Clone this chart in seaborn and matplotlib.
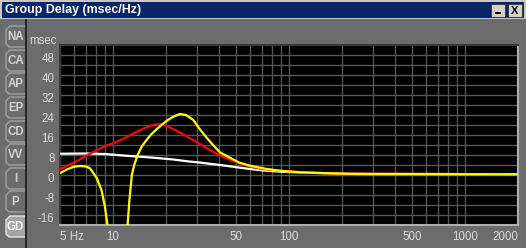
import numpy as np
import pandas as pd
import matplotlib
matplotlib.use("Agg")
import matplotlib.pyplot as plt
import seaborn as sns
from matplotlib.patches import Rectangle, Polygon
from matplotlib.ticker import FixedLocator, NullFormatter
from matplotlib.transforms import ScaledTranslation

# ---------------- data ----------------
white_f = [5, 7, 9, 10.5, 12.4, 15, 18.4, 22, 27, 31, 40.6, 48, 60, 71, 90, 130, 222, 2000]
white_v = [8.5, 8.6, 8.4, 8.0, 7.6, 7.2, 6.7, 6.2, 5.4, 5.0, 4.0, 3.3, 2.4, 1.8, 1.3, 0.9, 0.5, 0.3]

red_f = [5, 5.5, 6, 6.5, 7, 7.5, 8, 9, 10.5, 12, 13, 14, 15, 16.5, 17.8, 19, 20, 21, 23, 25, 27,
         29.7, 32, 35, 40.6, 48, 60, 71, 90, 130, 222, 2000]
red_v = [2.3, 3.7, 5.0, 6.3, 7.6, 8.7, 9.8, 11.5, 13.3, 15.2, 16.5, 17.7, 18.6, 19.8, 20.3, 20.1,
         19.7, 19.0, 17.7, 16.3, 14.9, 13.3, 11.9, 10.2, 7.8, 5.6, 3.4, 2.4, 1.7, 0.9, 0.5, 0.3]

yellow_lo_f = [5, 5.5, 6, 6.5, 7, 7.4, 8.1, 8.6, 9.0, 9.3, 9.5]
yellow_lo_v = [0.7, 2.3, 3.3, 3.6, 3.4, 2.7, -1.3, -6.0, -12.7, -20.0, -30.0]

yellow_hi_f = [12.0, 12.1, 12.4, 12.8, 13.2, 13.8, 14.6, 15.5, 16.5, 17.7, 19, 20.3, 22, 24, 26,
               28.6, 31, 34, 37, 40.6, 48, 52, 60, 75, 89, 110, 131, 170, 222, 300, 2000]
yellow_hi_v = [-30, -20, -10, 0, 4, 8, 11.5, 14, 16.3, 18.3, 20.2, 21.8, 23.3, 24.4, 24.0,
               22.0, 18.5, 15.0, 12.0, 9.0, 6.3, 5.0, 3.7, 2.4, 1.7, 1.2, 0.9, 0.7, 0.45, 0.35, 0.3]

x_tick_vals = [5, 10, 50, 100, 500, 1000, 2000]
x_tick_labels = ["5 Hz", "10", "50", "100", "500", "1000", "2000"]
x_minor_vals = [6, 7, 8, 9, 20, 30, 40, 60, 70, 80, 90, 200, 300, 400, 600, 700, 800, 900]
y_tick_vals = [-16, -8, 0, 8, 16, 24, 32, 40, 48]
y_minor_vals = [-12, -4, 4, 12, 20, 28, 36, 44]

tabs = ["NA", "CA", "AP", "EP", "CD", "VV", "I", "P", "GD"]
title_text = "Group Delay (msec/Hz)"

# ---------------- style ----------------
sns.set_style("dark")
plt.rcParams['font.family'] = ['Liberation Sans', 'DejaVu Sans']

BG = "#6c6c6c"
NAVY = "#0a246a"
TXT = "#dadada"
GRID = "#555555"

W, H = 526, 248
fig = plt.figure(figsize=(W / 100, H / 100), dpi=100, facecolor=BG)


def fx(px):
    return px / W


def fy(py):
    return 1 - py / H


# window frame / title bar
fig.patches.append(Rectangle((0, fy(19)), 1, 19 / H, transform=fig.transFigure,
                             facecolor="#c8c8c8", edgecolor="none", zorder=0))
fig.patches.append(Rectangle((fx(2), fy(18)), fx(522), 16 / H, transform=fig.transFigure,
                             facecolor=NAVY, edgecolor="none", zorder=1))
fig.text(fx(5), fy(10.5), title_text, color="white", fontsize=8.9, fontweight="bold",
         ha="left", va="center")
# buttons
for bx, glyph in [(491, "min"), (508, "X")]:
    fig.patches.append(Rectangle((fx(bx), fy(17)), 14 / W, 13 / H, transform=fig.transFigure,
                                 facecolor="#d4d0c8", edgecolor="#303030", lw=0.6, zorder=2))
    if glyph == "min":
        fig.patches.append(Rectangle((fx(bx + 4), fy(14)), 6 / W, 2 / H, transform=fig.transFigure,
                                     facecolor="black", edgecolor="none", zorder=3))
    else:
        fig.text(fx(bx + 7), fy(10.5), "X", color="black", fontsize=8, fontweight="bold",
                 ha="center", va="center", zorder=3)

# tabs (beveled shapes)
tab_centers = [37, 61, 84, 108, 132, 155, 179, 202, 227]
for name, cy in zip(tabs, tab_centers):
    sel = name == "GD"
    top, bot = cy - 11, cy + 10
    l, r = 6, 25
    pts = [(fx(r), fy(top)), (fx(l + 4), fy(top)), (fx(l), fy(top + 4)),
           (fx(l), fy(bot - 3)), (fx(l + 3), fy(bot)), (fx(r), fy(bot))]
    fig.patches.append(Polygon(pts, closed=False, transform=fig.transFigure,
                               facecolor="#a4a4a4" if sel else BG,
                               edgecolor="#e6e6e6" if sel else "#a0a0a0",
                               lw=1.0, zorder=2))
    fig.text(fx(15.5), fy(cy), name, color="white" if sel else "#d2d2d2",
             fontsize=8.3, fontweight="bold", ha="center", va="center", zorder=3)

# left divider line
fig.patches.append(Rectangle((fx(25), 0), 1.5 / W, fy(19), transform=fig.transFigure,
                             facecolor="#262626", edgecolor="none", zorder=4))

# ---------------- axes ----------------
ax = fig.add_axes([fx(60), fy(225), (518 - 60) / W, (225 - 45) / H])
ax.set_facecolor("black")

sns.lineplot(x=white_f, y=white_v, ax=ax, color="white", linewidth=1.6, sort=False, estimator=None)
sns.lineplot(x=red_f, y=red_v, ax=ax, color="#ff0000", linewidth=1.6, sort=False, estimator=None)
sns.lineplot(x=yellow_lo_f, y=yellow_lo_v, ax=ax, color="#ffff00", linewidth=1.6, sort=False, estimator=None)
sns.lineplot(x=yellow_hi_f, y=yellow_hi_v, ax=ax, color="#ffff00", linewidth=1.6, sort=False, estimator=None)

ax.set_xscale("log")
ax.set_xlim(5, 2000)
ax.set_ylim(-20, 52)
ax.xaxis.set_major_locator(FixedLocator(x_tick_vals))
ax.set_xticklabels(x_tick_labels)
ax.xaxis.set_minor_locator(FixedLocator(x_minor_vals))
ax.xaxis.set_minor_formatter(NullFormatter())
ax.yaxis.set_major_locator(FixedLocator(y_tick_vals))
ax.set_yticklabels([str(v) for v in y_tick_vals])
ax.yaxis.set_minor_locator(FixedLocator(y_minor_vals))
ax.yaxis.set_minor_formatter(NullFormatter())

ax.grid(True, which="both", color=GRID, linewidth=1.0)
ax.set_axisbelow(True)
for ln in ax.lines:
    ln.set_zorder(3)

ax.tick_params(which="both", length=0)
ax.tick_params(axis="y", pad=4, labelcolor=TXT, labelsize=8.3)
ax.tick_params(axis="x", pad=4, labelcolor=TXT, labelsize=8.3)
labels = ax.get_xticklabels()
labels[0].set_ha("left")
labels[-1].set_ha("right")
shift = ScaledTranslation(0, -2 / 100, fig.dpi_scale_trans)
for lbl in ax.get_yticklabels():
    lbl.set_transform(lbl.get_transform() + shift)
ax.set_xlabel("")
ax.set_ylabel("")

ax.spines["top"].set_color("#3a3a3a")
ax.spines["left"].set_color("#3a3a3a")
ax.spines["bottom"].set_color("#b0b0b0")
ax.spines["right"].set_color("#b0b0b0")
for s in ax.spines.values():
    s.set_linewidth(1.5)
    s.set_visible(True)

fig.text(fx(57), fy(40.5), "msec", color=TXT, fontsize=8.3, ha="right", va="center")

fig.savefig("out.png", dpi=100, facecolor=BG)
